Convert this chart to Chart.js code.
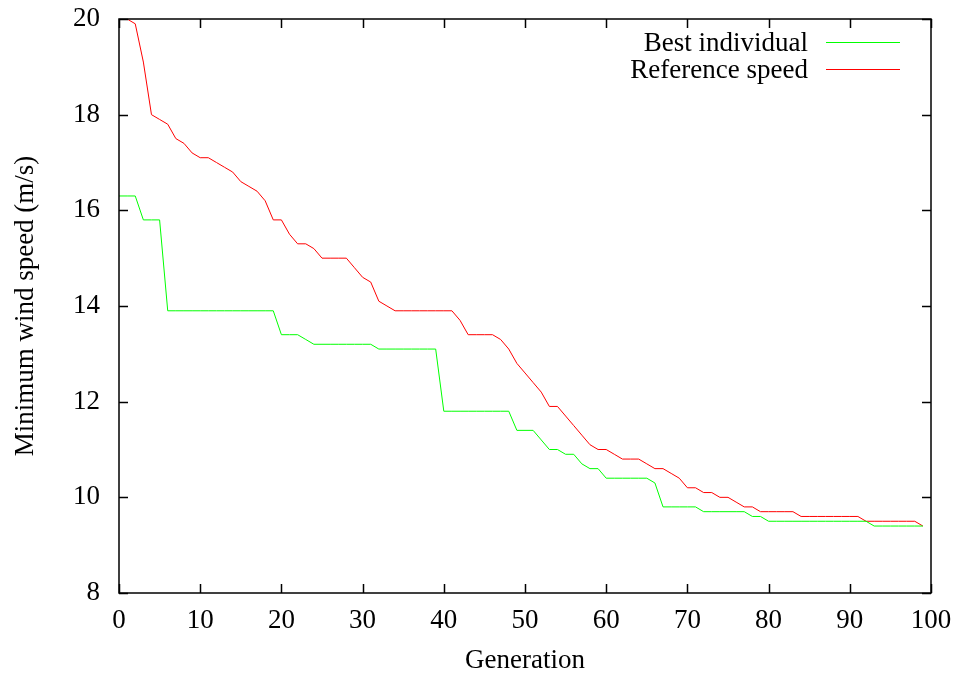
<!DOCTYPE html>
<html>
<head>
<meta charset="utf-8">
<script src="https://cdn.jsdelivr.net/npm/chart.js@4/dist/chart.umd.min.js"></script>
<style>
  html, body { margin: 0; padding: 0; background: #fff; }
  #wrap { width: 959px; height: 675px; }
</style>
</head>
<body>
<div id="wrap"><canvas id="myChart" width="959" height="675"></canvas></div>
<script>
// minimum wind speed per generation (m/s)
let bestIndividual = [
  16.3, 16.3, 16.3, 15.8, 15.8, 15.8, 13.9, 13.9, 13.9, 13.9,
  13.9, 13.9, 13.9, 13.9, 13.9, 13.9, 13.9, 13.9, 13.9, 13.9,
  13.4, 13.4, 13.4, 13.3, 13.2, 13.2, 13.2, 13.2, 13.2, 13.2,
  13.2, 13.2, 13.1, 13.1, 13.1, 13.1, 13.1, 13.1, 13.1, 13.1,
  11.8, 11.8, 11.8, 11.8, 11.8, 11.8, 11.8, 11.8, 11.8, 11.4,
  11.4, 11.4, 11.2, 11.0, 11.0, 10.9, 10.9, 10.7, 10.6, 10.6,
  10.4, 10.4, 10.4, 10.4, 10.4, 10.4, 10.3, 9.8, 9.8, 9.8,
  9.8, 9.8, 9.7, 9.7, 9.7, 9.7, 9.7, 9.7, 9.6, 9.6,
  9.5, 9.5, 9.5, 9.5, 9.5, 9.5, 9.5, 9.5, 9.5, 9.5,
  9.5, 9.5, 9.5, 9.4, 9.4, 9.4, 9.4, 9.4, 9.4, 9.4
];

let referenceSpeed = [
  20.0, 20.0, 19.9, 19.1, 18.0, 17.9, 17.8, 17.5, 17.4, 17.2,
  17.1, 17.1, 17.0, 16.9, 16.8, 16.6, 16.5, 16.4, 16.2, 15.8,
  15.8, 15.5, 15.3, 15.3, 15.2, 15.0, 15.0, 15.0, 15.0, 14.8,
  14.6, 14.5, 14.1, 14.0, 13.9, 13.9, 13.9, 13.9, 13.9, 13.9,
  13.9, 13.9, 13.7, 13.4, 13.4, 13.4, 13.4, 13.3, 13.1, 12.8,
  12.6, 12.4, 12.2, 11.9, 11.9, 11.7, 11.5, 11.3, 11.1, 11.0,
  11.0, 10.9, 10.8, 10.8, 10.8, 10.7, 10.6, 10.6, 10.5, 10.4,
  10.2, 10.2, 10.1, 10.1, 10.0, 10.0, 9.9, 9.8, 9.8, 9.7,
  9.7, 9.7, 9.7, 9.7, 9.6, 9.6, 9.6, 9.6, 9.6, 9.6,
  9.6, 9.6, 9.5, 9.5, 9.5, 9.5, 9.5, 9.5, 9.5, 9.4
];

let generations = bestIndividual.map((v, i) => i);

let xTicks = [0, 10, 20, 30, 40, 50, 60, 70, 80, 90, 100];
let yTicks = [8, 10, 12, 14, 16, 18, 20];

let font = "'Liberation Serif', 'DejaVu Serif', serif";
let fontSize = 27;

// gnuplot style frame: box + inward ticks on all four sides
let framePlugin = {
  id: 'frame',
  afterDatasetsDraw(chart) {
    let c = chart.ctx;
    let a = chart.chartArea;
    let xs = chart.scales.x, ys = chart.scales.y;
    let len = 9;
    c.save();
    c.strokeStyle = '#000';
    c.lineWidth = 1.5;
    c.beginPath();
    xTicks.forEach(t => {
      let px = Math.round(xs.getPixelForValue(t)) + 0.5;
      c.moveTo(px, a.bottom); c.lineTo(px, a.bottom - len);
      c.moveTo(px, a.top); c.lineTo(px, a.top + len);
    });
    yTicks.forEach(t => {
      let py = Math.round(ys.getPixelForValue(t)) + 0.5;
      c.moveTo(a.left, py); c.lineTo(a.left + len, py);
      c.moveTo(a.right, py); c.lineTo(a.right - len, py);
    });
    c.stroke();
    c.strokeRect(a.left, a.top, a.right - a.left, a.bottom - a.top);

    // legend, text on the left and line sample on the right
    c.font = fontSize + 'px ' + font;
    c.fillStyle = '#000';
    c.textAlign = 'right';
    c.textBaseline = 'middle';
    chart.data.datasets.forEach((ds, i) => {
      let y = 42 + i * 27;
      c.fillText(ds.label, 808, y + 2);
      c.strokeStyle = ds.borderColor;
      c.lineWidth = 1;
      c.beginPath();
      c.moveTo(826, y + 0.5); c.lineTo(900, y + 0.5);
      c.stroke();
    });
    c.restore();
  }
};

let ctx = document.getElementById('myChart').getContext('2d');

let myChart = new Chart(ctx, {
  type: 'line',
  data: {
    datasets: [{
      label: 'Best individual',
      data: generations.map(g => ({ x: g, y: bestIndividual[g] })),
      borderColor: '#00ff00',
      borderWidth: 1,
      pointRadius: 0,
      tension: 0,
      fill: false
    }, {
      label: 'Reference speed',
      data: generations.map(g => ({ x: g, y: referenceSpeed[g] })),
      borderColor: '#ff0000',
      borderWidth: 1,
      pointRadius: 0,
      tension: 0,
      fill: false
    }]
  },
  options: {
    responsive: false,
    animation: false,
    layout: { padding: { left: 0, top: 19, right: 28, bottom: 0 } },
    plugins: {
      legend: { display: false },
      tooltip: { enabled: false }
    },
    scales: {
      x: {
        type: 'linear',
        min: 0,
        max: 100,
        afterFit: s => { s.height = 82; s.paddingLeft = 0; s.paddingRight = 0; },
        afterBuildTicks: s => { s.ticks = xTicks.map(v => ({ value: v })); },
        grid: { display: false, drawTicks: false },
        border: { display: false },
        ticks: {
          color: '#000',
          padding: 12,
          maxRotation: 0,
          font: { family: font, size: fontSize }
        },
        title: {
          display: true,
          text: 'Generation',
          color: '#000',
          padding: { top: 0, bottom: 0 },
          font: { family: font, size: fontSize, lineHeight: 1.05 }
        }
      },
      y: {
        min: 8,
        max: 20,
        afterFit: s => { s.width = 119; s.paddingTop = 0; s.paddingBottom = 0; },
        afterBuildTicks: s => { s.ticks = yTicks.map(v => ({ value: v })); },
        grid: { display: false, drawTicks: false },
        border: { display: false },
        ticks: {
          color: '#000',
          padding: 19,
          font: { family: font, size: fontSize }
        },
        title: {
          display: true,
          text: 'Minimum wind speed (m/s)',
          color: '#000',
          padding: { top: 10, bottom: 0 },
          font: { family: font, size: fontSize }
        }
      }
    }
  },
  plugins: [framePlugin]
});
</script>
</body>
</html>
